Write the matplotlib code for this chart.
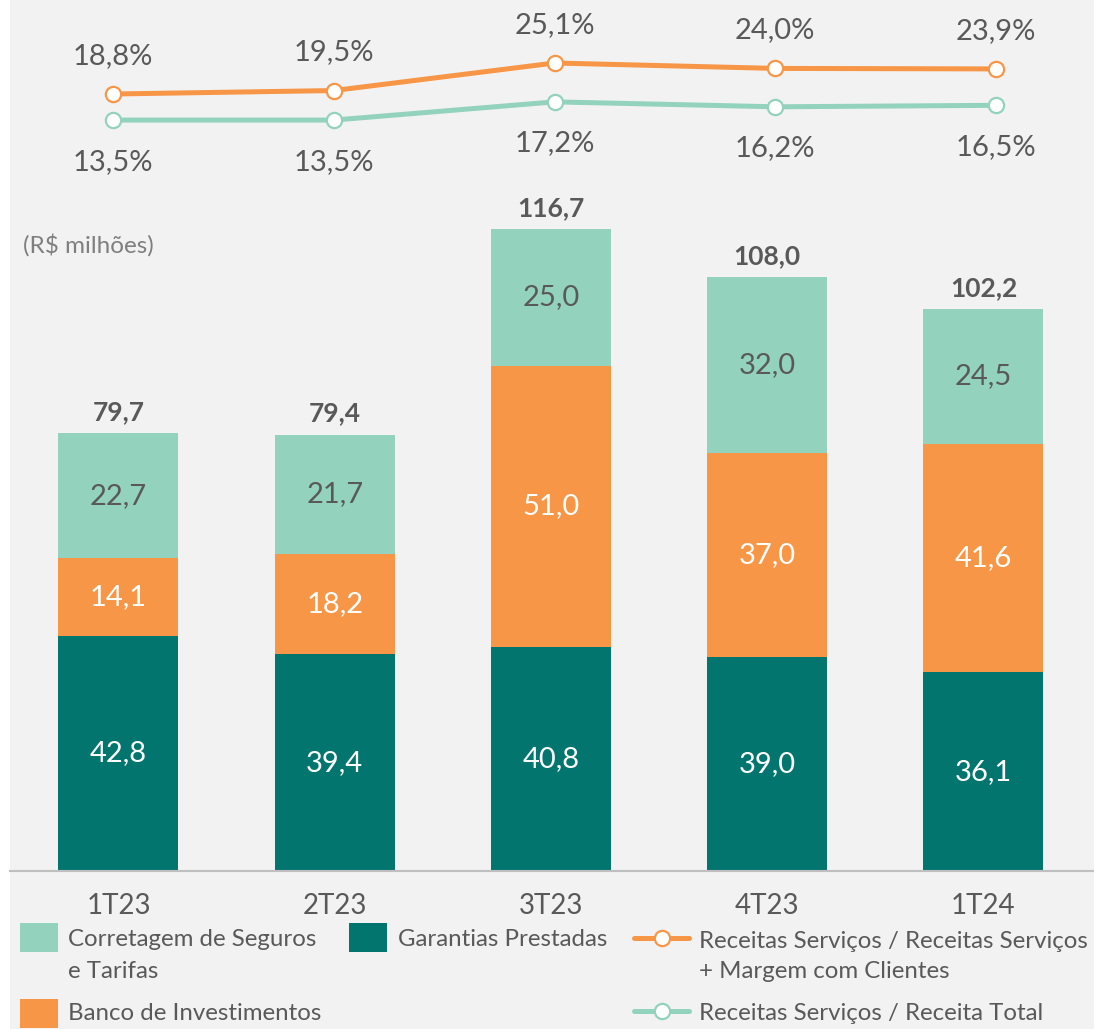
import matplotlib
matplotlib.use('Agg')
import matplotlib.pyplot as plt
from matplotlib.patches import Rectangle
from matplotlib.lines import Line2D
import numpy as np

plt.rcParams['font.family'] = ['Lato', 'DejaVu Sans']

# data
quarters = ['1T23', '2T23', '3T23', '4T23', '1T24']
garantias = [42.8, 39.4, 40.8, 39.0, 36.1]
banco_inv = [14.1, 18.2, 51.0, 37.0, 41.6]
corretagem = [22.7, 21.7, 25.0, 32.0, 24.5]
totais = [79.7, 79.4, 116.7, 108.0, 102.2]
pct_margem = [18.8, 19.5, 25.1, 24.0, 23.9]
pct_total = [13.5, 13.5, 17.2, 16.2, 16.5]

C_LIGHT = '#93D3BD'
C_ORANGE = '#F79646'
C_TEAL = '#03756F'
C_TEXT = '#595959'
BG = '#F2F2F2'

W, H = 1094, 1029
fig = plt.figure(figsize=(W / 100, H / 100), dpi=100, facecolor=BG)


def fx(x):
    return x / W


def fy(y):
    return 1 - y / H


# white strip on the left edge
fig.add_artist(Rectangle((0, 0), fx(10), 1, transform=fig.transFigure,
                         facecolor='white', edgecolor='none', zorder=0))

# ---- bar axes ----
ax = fig.add_axes([0, fy(871), 1, (871 - 200) / H])
ax.set_facecolor('none')
x = np.arange(len(quarters))
step = 216.25
ax.set_xlim(-118.5 / step, (W - 118.5) / step)
ax.set_ylim(0, 671 / 5.5)
bw = 120 / step

g = np.array(garantias)
b = np.array(banco_inv)
c = np.array(corretagem)
ax.bar(x, g, bw, color=C_TEAL, edgecolor='none')
ax.bar(x, b, bw, bottom=g, color=C_ORANGE, edgecolor='none')
ax.bar(x, c, bw, bottom=g + b, color=C_LIGHT, edgecolor='none')

for i in range(len(quarters)):
    ax.text(x[i], g[i] / 2, f'{garantias[i]:.1f}'.replace('.', ','),
            ha='center', va='center', color='white', fontsize=21)
    ax.text(x[i], g[i] + b[i] / 2, f'{banco_inv[i]:.1f}'.replace('.', ','),
            ha='center', va='center', color='white', fontsize=21)
    ax.text(x[i], g[i] + b[i] + c[i] / 2, f'{corretagem[i]:.1f}'.replace('.', ','),
            ha='center', va='center', color=C_TEXT, fontsize=21)
    ax.annotate(f'{totais[i]:.1f}'.replace('.', ','), (x[i], totais[i]),
                xytext=(0, 15), textcoords='offset points',
                ha='center', va='center', color=C_TEXT, fontsize=19,
                fontweight='bold')

for s in ax.spines.values():
    s.set_visible(False)
ax.axhline(0, xmin=10 / W, xmax=1, color='#BFBFBF', lw=1.5, clip_on=False)
ax.set_yticks([])
ax.set_xticks(x)
ax.set_xticklabels(quarters, fontsize=20, color=C_TEXT)
ax.tick_params(axis='x', length=0, pad=15.5)

fig.text(fx(23), fy(245), '(R$ milhões)', ha='left', va='center',
         color='#7F7F7F', fontsize=17.5)

# ---- line axes ----
lax = fig.add_axes([0, fy(190), 1, 190 / H])
lax.set_facecolor('none')
lstep = 220.75
lax.set_xlim(-113 / lstep, (W - 113) / lstep)
lax.set_ylim(18.8 - 96 / 4.92, 18.8 + 94 / 4.92)
lax.axis('off')
lax.plot(x, pct_margem, color=C_ORANGE, lw=3.6, marker='o', ms=11,
         mfc='white', mec=C_ORANGE, mew=1.6, clip_on=False)
lax.plot(x, pct_total, color=C_LIGHT, lw=3.6, marker='o', ms=11,
         mfc='white', mec=C_LIGHT, mew=1.6, clip_on=False)
for i in range(len(quarters)):
    lax.annotate(f'{pct_margem[i]:.1f}%'.replace('.', ','), (x[i], pct_margem[i]),
                 xytext=(0, 27.5), textcoords='offset points',
                 ha='center', va='center', color=C_TEXT, fontsize=21)
    lax.annotate(f'{pct_total[i]:.1f}%'.replace('.', ','), (x[i], pct_total[i]),
                 xytext=(0, -30), textcoords='offset points',
                 ha='center', va='center', color=C_TEXT, fontsize=21)

# ---- legend (drawn by hand) ----
def leg_box(x0, y0, color):
    fig.add_artist(Rectangle((fx(x0), fy(y0 + 29)), fx(38), 29 / H,
                             transform=fig.transFigure, facecolor=color,
                             edgecolor='none'))


def leg_line(x0, y0, color):
    fig.add_artist(Line2D([fx(x0), fx(x0 + 55)], [fy(y0), fy(y0)],
                          transform=fig.transFigure, color=color, lw=3.6,
                          solid_capstyle='round'))
    fig.add_artist(Line2D([fx(x0 + 27.5)], [fy(y0)], transform=fig.transFigure,
                          marker='o', ms=11, mfc='white', mec=color, mew=1.6))


def leg_text(x0, y0, s):
    fig.text(fx(x0), fy(y0), s, ha='left', va='center', color=C_TEXT,
             fontsize=17.3)


leg_box(20, 923, C_LIGHT)
leg_text(68, 940, 'Corretagem de Seguros')
leg_text(68, 971, 'e Tarifas')
leg_box(20, 999, C_ORANGE)
leg_text(68, 1013, 'Banco de Investimentos')
leg_box(349, 923, C_TEAL)
leg_text(398, 940, 'Garantias Prestadas')
leg_line(634, 938, C_ORANGE)
leg_text(699, 941, 'Receitas Serviços / Receitas Serviços')
leg_text(699, 971, '+ Margem com Clientes')
leg_line(634, 1011, C_LIGHT)
leg_text(699, 1013, 'Receitas Serviços / Receita Total')

fig.savefig('out.png', dpi=100, facecolor=fig.get_facecolor())
